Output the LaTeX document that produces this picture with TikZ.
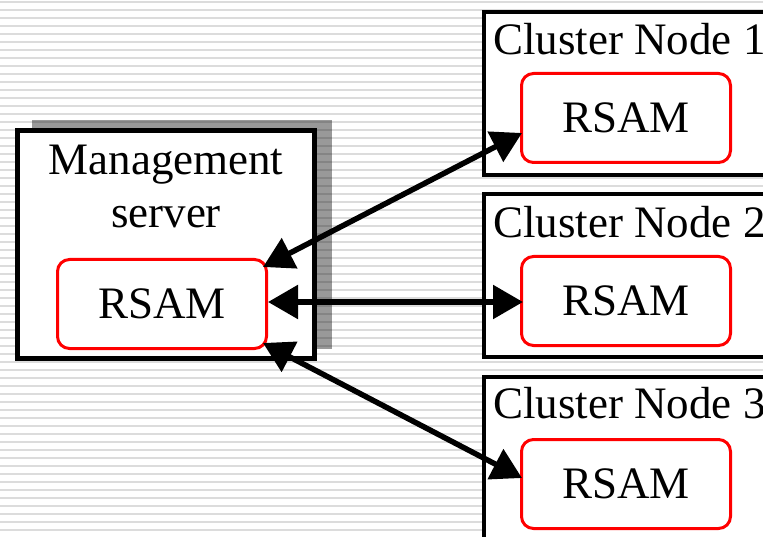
\documentclass[tikz,border=0pt]{standalone}
\usepackage{fontspec}
\setmainfont{Liberation Serif}
\usetikzlibrary{arrows.meta,calc}
\definecolor{stripe}{HTML}{DCDCDC}
\definecolor{rsamred}{HTML}{FF0000}
\begin{document}
\begin{tikzpicture}[x=1pt,y=-1pt,
  box/.style={draw=black, line width=5pt, fill=white, inner sep=0pt},
  cbox/.style={draw=black, line width=4pt, fill=white, inner sep=0pt, anchor=north west, minimum width=400pt},
  rsam/.style={draw=rsamred, line width=3pt, rounded corners=12pt, fill=white, minimum width=209pt, minimum height=89pt, inner sep=0pt, font=\fontsize{45}{53}\selectfont, text depth=0pt},
  lbl/.style={font=\fontsize{45}{53}\selectfont, inner sep=0pt},
  link/.style={line width=5.5pt, {Triangle[length=30pt,width=33pt]}-{Triangle[length=30pt,width=33pt]}}]
\useasboundingbox (0,0) rectangle (763,537);
\clip (0,0) rectangle (763,537);
\foreach \k in {0,...,66} \fill[stripe] (0,{1+8*\k}) rectangle (763,{3+8*\k});
% shadow
\fill[black, fill opacity=0.4] (32,120) rectangle (332,349);
% management server
\node[box, minimum width=297pt, minimum height=228pt] (ms) at (166,244.5) {};
\node[lbl, align=center, anchor=north] (mstext) at (166,145) {Management\\server};
\node[rsam] (msr) at (162,304) {RSAM};
% cluster nodes
\node[cbox, minimum height=163pt] (c1) at (482,10) {};
\node[cbox, minimum height=163pt] (c2) at (482,192) {};
\node[cbox, minimum height=180pt] (c3) at (482,375) {};
\node[lbl, anchor=base west] (c1t) at (493,55) {Cluster Node 1};
\node[lbl, anchor=base west] (c2t) at (493,238) {Cluster Node 2};
\node[lbl, anchor=base west] (c3t) at (493,418) {Cluster Node 3};
\node[rsam] (r1) at (626,118) {RSAM};
\node[rsam] (r2) at (626,301) {RSAM};
\node[rsam] (r3) at (626,484) {RSAM};
% links
\draw[link] ($(msr.north east)+(-5,9)$) -- ($(r1.west)+(2,15)$);
\draw[link] ($(msr.east)+(0,-2)$) -- ($(r2.west)+(3,1)$);
\draw[link] ($(msr.south east)+(-5,-7)$) -- ($(r3.west)+(2,-6)$);
\end{tikzpicture}
\end{document}
